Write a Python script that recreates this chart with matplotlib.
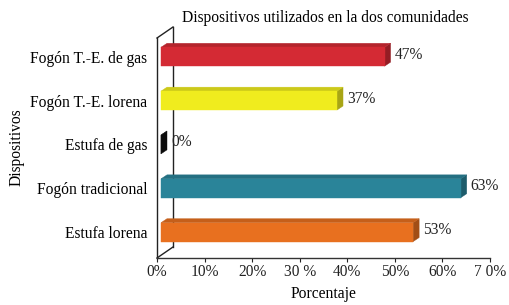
import matplotlib
matplotlib.use("Agg")
import matplotlib.pyplot as plt
from matplotlib.patches import Polygon
from matplotlib.transforms import IdentityTransform
import matplotlib.colors as mcolors
from matplotlib.lines import Line2D

categories = ["Estufa lorena", "Fogón tradicional", "Estufa de gas",
              "Fogón T.-E. lorena", "Fogón T.-E. de gas"]
values = [53, 63, 0, 37, 47]
value_labels = ["53%", "63%", "0%", "37%", "47%"]
colors = ["#E8701F", "#2A8499", "#111111", "#F0EC1E", "#D42A34"]
xticks = [0, 10, 20, 30, 40, 50, 60, 70]
xtick_labels = ["0%", "10%", "20%", "30 %", "40%", "50%", "60%", "7 0%"]
title = "Dispositivos utilizados en la dos comunidades"
xlabel = "Porcentaje"
ylabel = "Dispositivos"

plt.rcParams['font.family'] = ['Liberation Serif', 'DejaVu Serif']
FS = 11.2

fig = plt.figure(figsize=(5.1, 3.05), dpi=100)
W, H = 510, 305
ax = fig.add_axes([157 / W, 1 - 258 / H, 333 / W, 221 / H])
ax.set_xlim(0, 70)
ax.set_ylim(-0.59, 4.45)
for s in ["top", "right", "left"]:
    ax.spines[s].set_visible(False)
ax.spines["bottom"].set_linewidth(1.0)
ax.spines["bottom"].set_color("#333333")
ax.set_xticks(xticks)
ax.set_xticklabels(xtick_labels, fontsize=FS)
ax.tick_params(axis="x", length=3, width=0.8, pad=1, colors="#222222")
ax.set_yticks(range(len(categories)))
ax.set_yticklabels(categories, fontsize=FS)
ax.tick_params(axis="y", length=0, pad=7)
ax.set_xlabel(xlabel, fontsize=FS, labelpad=4.5)
ax.set_ylabel(ylabel, fontsize=FS, labelpad=4)
ax.set_facecolor("none")
ax.set_zorder(1)


def px(x, y):
    return (x, H - y)


wall_pts = [[(157, 258), (173, 247)], [(173, 247), (173, 27)],
            [(173, 27), (157, 38)], [(157, 38), (157, 258)]]
for a, b in wall_pts:
    p1 = px(*a); p2 = px(*b)
    fig.add_artist(Line2D([p1[0], p2[0]], [p1[1], p2[1]], transform=IdentityTransform(),
                          color="#222222", lw=1.0, zorder=0.5))

bar_h = 0.43
shift = 4      # front face shift in px
dx, dy = 6, 4  # depth offset in px


def darker(c, f):
    r, g, b = mcolors.to_rgb(c)
    return (r * f, g * f, b * f)


fig.canvas.draw()
T = ax.transData
for i, (v, c, lab) in enumerate(zip(values, colors, value_labels)):
    x0, y0 = T.transform((0, i - bar_h / 2))
    x1, y1 = T.transform((v, i + bar_h / 2))
    x0 += shift; x1 += shift
    front = [(x0, y0), (x1, y0), (x1, y1), (x0, y1)]
    top = [(x0, y1), (x1, y1), (x1 + dx, y1 + dy), (x0 + dx, y1 + dy)]
    side = [(x1, y0), (x1 + dx, y0 + dy), (x1 + dx, y1 + dy), (x1, y1)]
    for poly, col in [(side, darker(c, 0.7)), (top, darker(c, 0.85)), (front, c)]:
        fig.add_artist(Polygon(poly, closed=True, transform=IdentityTransform(),
                               facecolor=col, edgecolor=col, lw=0.3, zorder=2))
    tx = x1 + dx + 4
    ty = (y0 + y1) / 2 + dy / 2
    fig.text(tx / W, ty / H, lab, fontsize=FS, ha="left", va="center", color="#222222",
             zorder=3)

fig.text(325 / W, 1 - 18 / H, title, fontsize=FS, ha="center", va="center")

fig.savefig("out.png", dpi=100)
